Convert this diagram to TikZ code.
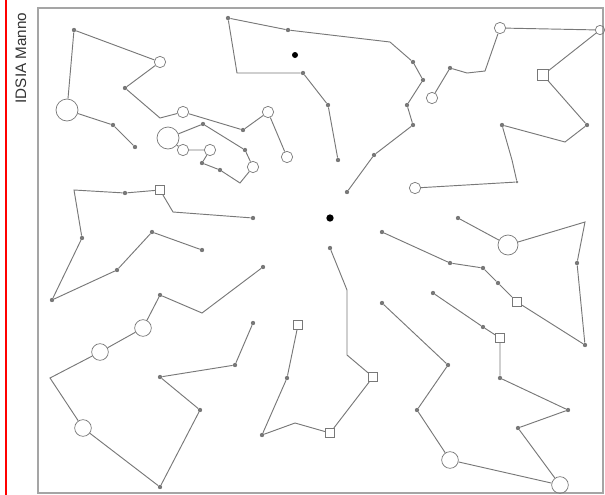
\documentclass[tikz,border=0pt]{standalone}
\usepackage{fontspec}
\setmainfont{Liberation Sans}
\usepackage{tikz}
\usetikzlibrary{positioning}
\definecolor{routegray}{RGB}{120,120,120}
\definecolor{framegray}{RGB}{165,165,165}

\begin{document}
\begin{tikzpicture}[x=0.03cm, y=-0.03cm,
      dot/.style={circle, fill=routegray, inner sep=0pt, minimum size=0.13cm},
      ring/.style={circle, draw=routegray, line width=0.6pt, inner sep=0pt, minimum size=0.34cm},
      midring/.style={ring, minimum size=0.5cm},
      bigring/.style={ring, minimum size=0.66cm},
      sqbox/.style={rectangle, draw=routegray, line width=0.6pt, inner sep=0pt, minimum size=0.28cm},
      hub/.style={circle, fill=black, inner sep=0pt, minimum size=0.22cm},
      route/.style={routegray, line width=0.8pt}
    ]
    \useasboundingbox (0,0) rectangle (605,495);

    % Margin and frame
    \draw[red, line width=1.4pt] (6,0) -- (6,495);
    \node[rotate=90, font=\fontsize{13}{13}\selectfont, text=black!80] (site) at (21,58) {IDSIA Manno};
    \draw[framegray, line width=2pt] (38,8) rectangle (603,493);

    % Depot and marked customer
    \node[hub] (depot) at (330,218) {};
    \node[hub, minimum size=0.18cm] (spot) at (295,55) {};

    % Route 1 (top left)
    \node[dot] (r1a) at (135,147) {};
    \node[dot] (r1b) at (113,125) {};
    \node[bigring] (r1c) at (67,110) {};
    \node[dot] (r1d) at (74,30) {};
    \node[ring] (r1e) at (160,62) {};
    \node[dot] (r1f) at (125,88) {};
    \coordinate (r1g) at (160,118);
    \node[ring] (r1h) at (183,112) {};
    \node[dot] (r1i) at (243,130) {};
    \node[ring] (r1j) at (268,112) {};
    \node[ring] (r1k) at (287,157) {};
    \draw[route] (r1a) -- (r1b) -- (r1c) -- (r1d) -- (r1e) -- (r1f) -- (r1g) -- (r1h) -- (r1i) -- (r1j) -- (r1k);

    % Route 2 (small loop)
    \node[bigring] (r2a) at (168,138) {};
    \node[dot] (r2b) at (203,124) {};
    \node[dot] (r2c) at (245,150) {};
    \node[ring] (r2d) at (253,167) {};
    \coordinate (r2e) at (240,183);
    \node[dot] (r2f) at (220,170) {};
    \node[dot] (r2g) at (202,163) {};
    \node[ring] (r2h) at (210,150) {};
    \node[ring] (r2i) at (183,150) {};
    \draw[route] (r2a) -- (r2b) -- (r2c) -- (r2d) -- (r2e) -- (r2f) -- (r2g) -- (r2h) -- (r2i) -- (r2a);

    % Route 3 (top centre)
    \node[dot] (r3a) at (347,192) {};
    \node[dot] (r3b) at (374,155) {};
    \node[dot] (r3c) at (413,125) {};
    \node[dot] (r3d) at (407,105) {};
    \node[dot] (r3e) at (423,80) {};
    \node[dot] (r3f) at (413,62) {};
    \coordinate (r3g) at (390,42);
    \node[dot] (r3h) at (288,30) {};
    \node[dot] (r3i) at (228,18) {};
    \coordinate (r3j) at (237,73);
    \node[dot] (r3k) at (303,73) {};
    \node[dot] (r3l) at (328,105) {};
    \node[dot] (r3m) at (338,160) {};
    \draw[route] (r3a) -- (r3b) -- (r3c) -- (r3d) -- (r3e) -- (r3f) -- (r3g) -- (r3h) -- (r3i) -- (r3j) -- (r3k) -- (r3l) -- (r3m);

    % Route 4 (top right)
    \node[ring] (r4a) at (432,98) {};
    \node[dot] (r4b) at (450,68) {};
    \coordinate (r4c) at (467,73);
    \coordinate (r4d) at (485,71);
    \node[ring] (r4e) at (500,28) {};
    \node[ring, minimum size=0.28cm] (r4f) at (600,30) {};
    \node[sqbox, minimum size=0.32cm] (r4g) at (543,75) {};
    \node[dot] (r4h) at (587,125) {};
    \coordinate (r4i) at (565,142);
    \node[dot] (r4j) at (502,125) {};
    \coordinate (r4k) at (512,160);
    \node[dot, minimum size=0.08cm] (r4l) at (517,182) {};
    \node[ring] (r4m) at (415,188) {};
    \draw[route] (r4a) -- (r4b) -- (r4c) -- (r4d) -- (r4e) -- (r4f) -- (r4g) -- (r4h) -- (r4i) -- (r4j) -- (r4k) -- (r4l) -- (r4m);

    % Route 5 (left middle)
    \node[dot] (r5a) at (253,218) {};
    \coordinate (r5c) at (173,212);
    \node[sqbox] (r5d) at (160,190) {};
    \node[dot] (r5e) at (125,193) {};
    \coordinate (r5f) at (74,190);
    \node[dot] (r5g) at (82,238) {};
    \node[dot] (r5h) at (52,300) {};
    \node[dot] (r5i) at (117,270) {};
    \node[dot] (r5j) at (152,232) {};
    \node[dot] (r5k) at (202,250) {};
    \draw[route] (r5a) -- (r5c) -- (r5d) -- (r5e) -- (r5f) -- (r5g) -- (r5h) -- (r5i) -- (r5j) -- (r5k);

    % Route 6 (bottom left)
    \node[dot] (r6a) at (263,267) {};
    \coordinate (r6b) at (202,313);
    \node[dot] (r6c) at (160,295) {};
    \node[midring] (r6d) at (143,328) {};
    \node[midring] (r6e) at (100,352) {};
    \coordinate (r6f) at (50,378);
    \node[midring] (r6g) at (83,428) {};
    \node[dot] (r6h) at (160,487) {};
    \node[dot] (r6i) at (200,410) {};
    \node[dot] (r6j) at (160,377) {};
    \node[dot] (r6k) at (235,365) {};
    \node[dot] (r6l) at (253,323) {};
    \draw[route] (r6a) -- (r6b) -- (r6c) -- (r6d) -- (r6e) -- (r6f) -- (r6g) -- (r6h) -- (r6i) -- (r6j) -- (r6k) -- (r6l);

    % Route 7 (bottom centre)
    \node[dot] (r7a) at (330,248) {};
    \coordinate (r7b) at (347,290);
    \coordinate (r7c) at (347,355);
    \node[sqbox] (r7d) at (373,377) {};
    \node[sqbox] (r7e) at (330,433) {};
    \coordinate (r7f) at (295,423);
    \node[dot] (r7g) at (262,435) {};
    \node[dot] (r7h) at (287,378) {};
    \node[sqbox] (r7i) at (298,325) {};
    \draw[route] (r7a) -- (r7b) -- (r7c) -- (r7d) -- (r7e) -- (r7f) -- (r7g) -- (r7h) -- (r7i);

    % Route 8 (right middle)
    \node[dot] (r8a) at (382,232) {};
    \node[dot] (r8b) at (450,263) {};
    \node[dot] (r8c) at (483,268) {};
    \node[dot] (r8d) at (498,283) {};
    \node[sqbox] (r8e) at (517,302) {};
    \node[dot] (r8f) at (585,345) {};
    \node[dot] (r8g) at (577,263) {};
    \coordinate (r8h) at (585,222);
    \node[bigring, minimum size=0.6cm] (r8i) at (508,245) {};
    \node[dot] (r8j) at (458,218) {};
    \draw[route] (r8a) -- (r8b) -- (r8c) -- (r8d) -- (r8e) -- (r8f) -- (r8g) -- (r8h) -- (r8i) -- (r8j);

    % Route 9 (bottom right)
    \node[dot] (r9a) at (433,293) {};
    \node[dot] (r9b) at (483,327) {};
    \node[sqbox] (r9c) at (500,338) {};
    \node[dot] (r9d) at (500,378) {};
    \node[dot] (r9e) at (568,410) {};
    \node[dot] (r9f) at (518,428) {};
    \node[midring] (r9g) at (560,485) {};
    \node[midring] (r9h) at (450,460) {};
    \node[dot] (r9i) at (417,410) {};
    \node[dot] (r9j) at (448,365) {};
    \node[dot] (r9k) at (382,303) {};
    \draw[route] (r9a) -- (r9b) -- (r9c) -- (r9d) -- (r9e) -- (r9f) -- (r9g) -- (r9h) -- (r9i) -- (r9j) -- (r9k);

  \end{tikzpicture}
\end{document}
